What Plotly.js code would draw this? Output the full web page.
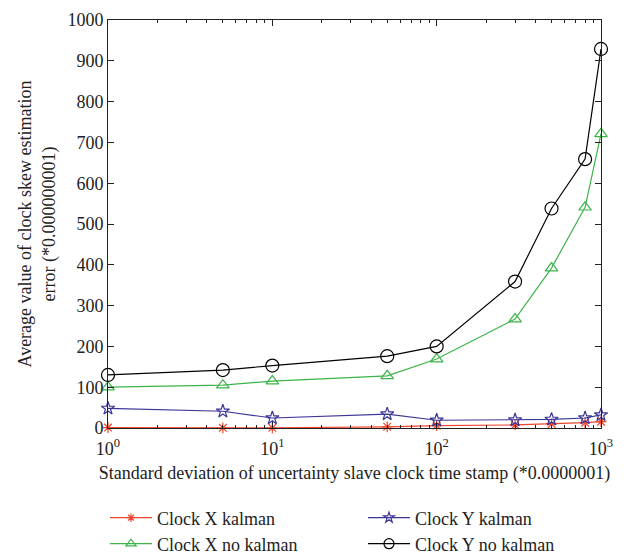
<!DOCTYPE html>
<html><head><meta charset="utf-8">
<script src="https://cdn.plot.ly/plotly-3.0.1.min.js"></script>
<style>body{margin:0;background:#fff}#chart{width:639px;height:556px}</style>
</head><body><div id="chart"></div>
<script>
const xVals = [1, 5, 10, 50, 100, 300, 500, 800, 1000];
const clockXKalman = [1, 0.5, 0.5, 3, 6, 7.5, 10, 13, 15.5];
const clockYKalman = [48, 41, 24.5, 34, 19, 19.5, 21, 24.5, 32];
const clockXNoKalman = [100, 105, 115, 128, 169, 267, 392, 541, 721];
const clockYNoKalman = [130, 142, 153, 176, 200, 359, 538, 659, 929];
const names = ["Clock X kalman", "Clock Y kalman", "Clock X no kalman", "Clock Y no kalman"];
const xTickVals = [1, 10, 100, 1000];
const xTickText = ["10<sup>0</sup>", "10<sup>1</sup>", "10<sup>2</sup>", "10<sup>3</sup>"];
const xMinorVals = [2,3,4,5,6,7,8,9,20,30,40,50,60,70,80,90,200,300,400,500,600,700,800,900];
const yTickVals = [0,100,200,300,400,500,600,700,800,900,1000];

const font = "Liberation Serif, Times New Roman, serif";
const FS = 18;
const styles = [
  {color: '#f0462d', symbol: 'asterisk-open', size: 9, lsize: 7},
  {color: '#3b3596', symbol: 'star-open', size: 10, lsize: 8},
  {color: '#3cb44a', symbol: 'triangle-up-open', size: 11, lsize: 9},
  {color: '#000000', symbol: 'circle-open', size: 13, lsize: 10}
];
// legend placement (container px): [symbol left x, row center y]
const legendPos = [[105, 518], [363, 518], [105, 544], [363, 544]];
const legendIds = ['legend', 'legend2', 'legend3', 'legend4'];
const series = [clockXKalman, clockYKalman, clockXNoKalman, clockYNoKalman];
const data = [];
series.forEach((y, i) => {
  const s = styles[i];
  data.push({x: xVals, y: y, name: names[i], type: 'scatter', mode: 'lines+markers', showlegend: false,
    line: {color: s.color, width: 1.2},
    marker: {symbol: s.symbol, size: s.size, color: s.color, line: {color: s.color, width: 1.2}},
    cliponaxis: false});
});
series.forEach((y, i) => {
  const s = styles[i];
  data.push({x: [null], y: [null], name: names[i], type: 'scatter', mode: 'lines+markers', showlegend: true,
    legend: legendIds[i],
    line: {color: s.color, width: 1.2},
    marker: {symbol: s.symbol, size: s.lsize, color: s.color, line: {color: s.color, width: 1.2}}});
});
const layout = {
  width: 639, height: 556,
  margin: {l: 108, r: 38, t: 20, b: 128, autoexpand: false},
  paper_bgcolor: '#fff', plot_bgcolor: '#fff',
  font: {family: font, size: FS, color: '#222'},
  showlegend: true,
  xaxis: {type: 'log', range: [0, 3], tickmode: 'array', tickvals: xTickVals, ticktext: xTickText,
    ticks: 'inside', ticklen: 6, tickcolor: '#222', showline: true, linecolor: '#222', linewidth: 1,
    mirror: 'ticks', showgrid: false, zeroline: false, automargin: false, ticklabelstandoff: 4,
    minor: {tickmode: 'array', tickvals: xMinorVals, ticks: 'inside', ticklen: 3, tickcolor: '#222', showgrid: false},
    tickfont: {family: font, size: FS, color: '#222'},
    title: {text: 'Standard deviation of uncertainty slave clock time stamp (*0.0000001)', font: {family: font, size: FS, color: '#222'}, standoff: 8}},
  yaxis: {range: [0, 1000], tickmode: 'array', tickvals: yTickVals,
    ticks: 'inside', ticklen: 6, tickcolor: '#222', showline: true, linecolor: '#222', linewidth: 1,
    mirror: 'ticks', showgrid: false, zeroline: false, automargin: false,
    tickfont: {family: font, size: FS, color: '#222'},
    title: {text: 'Average value of clock skew estimation<br>error (*0.000000001)', font: {family: font, size: FS, color: '#222'}, standoff: 7}}
};
legendIds.forEach((id, i) => {
  layout[id] = {orientation: 'h', xref: 'container', yref: 'container',
    x: legendPos[i][0] / 639, xanchor: 'left', y: 1 - legendPos[i][1] / 556, yanchor: 'middle',
    itemwidth: 42, font: {family: font, size: FS, color: '#222'}, bgcolor: 'rgba(0,0,0,0)'};
});
Plotly.newPlot('chart', data, layout, {displayModeBar: false, staticPlot: true});
</script></body></html>
